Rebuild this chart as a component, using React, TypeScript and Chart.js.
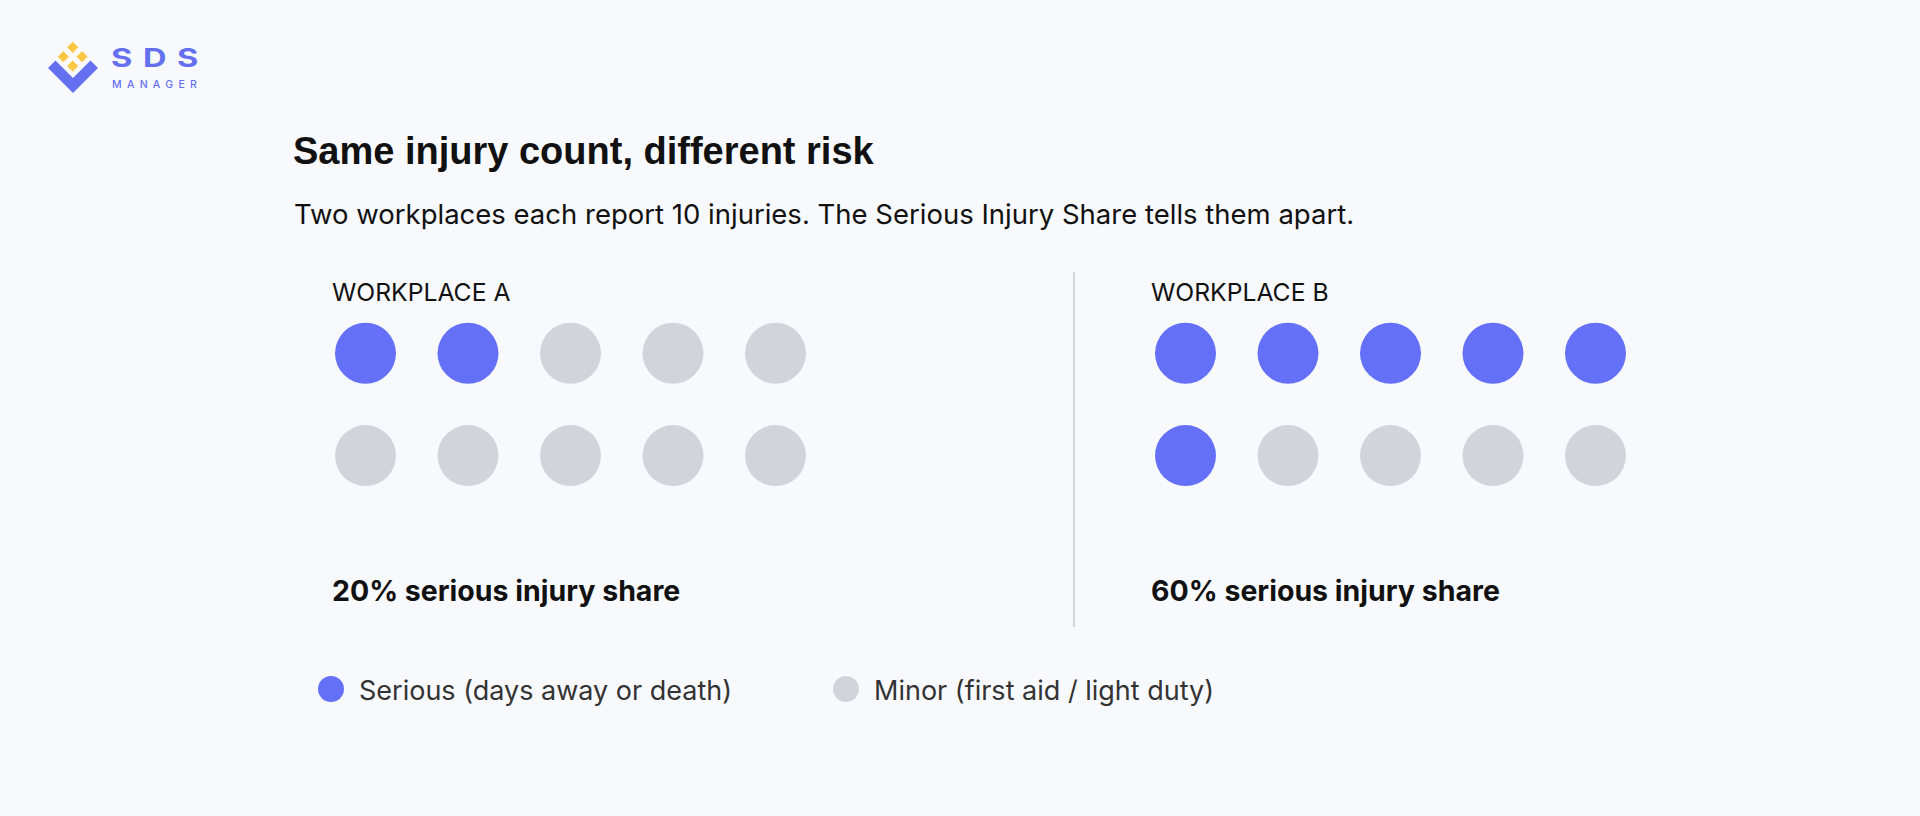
import React, { useEffect, useRef } from "react";
import { Chart, registerables } from "chart.js";

Chart.register(...registerables);

const workplaces = ["WORKPLACE A", "WORKPLACE B"];
const totalInjuries = [10, 10];
const seriousInjuries = [2, 6];
const shareLabels = ["20% serious injury share", "60% serious injury share"];
const legendLabels = ["Serious (days away or death)", "Minor (first aid / light duty)"];
const dotsPerRow = 5;
const workplaceColumnOffset = 8;

const SERIOUS = "#6470F7";
const MINOR = "#D1D5DB";
const BG = "#F8F9FD";

const INTER = "Inter, 'Noto Sans', sans-serif";

function buildPoints() {
  const serious: { x: number; y: number }[] = [];
  const minor: { x: number; y: number }[] = [];
  workplaces.forEach((_, w) => {
    for (let i = 0; i < totalInjuries[w]; i++) {
      const p = { x: w * workplaceColumnOffset + (i % dotsPerRow), y: Math.floor(i / dotsPerRow) };
      if (i < seriousInjuries[w]) serious.push(p);
      else minor.push(p);
    }
  });
  return { serious, minor };
}

// canvas placement (layout)
const CV_LEFT = 300;
const CV_TOP = 290;
const CV_W = 1400;
const CV_H = 230;
const PAD = 40;
const X0 = 365.5; // px of column 0
const XSTEP = 102.5;
const Y0 = 353.3;
const YSTEP = 102.3;

function DotChart() {
  const ref = useRef<HTMLCanvasElement | null>(null);
  useEffect(() => {
    if (!ref.current) return;
    const { serious, minor } = buildPoints();
    const xmin = -(X0 - (CV_LEFT + PAD)) / XSTEP;
    const xmax = xmin + (CV_W - 2 * PAD) / XSTEP;
    const ymin = -(Y0 - (CV_TOP + PAD)) / YSTEP;
    const ymax = ymin + (CV_H - 2 * PAD) / YSTEP;
    const chart = new Chart(ref.current, {
      type: "scatter",
      data: {
        datasets: [
          {
            label: legendLabels[0],
            data: serious,
            pointRadius: 30.5,
            pointBackgroundColor: SERIOUS,
            pointBorderWidth: 0,
            pointHoverRadius: 30.5,
            clip: false as any,
          },
          {
            label: legendLabels[1],
            data: minor,
            pointRadius: 30.5,
            pointBackgroundColor: MINOR,
            pointBorderWidth: 0,
            pointHoverRadius: 30.5,
            clip: false as any,
          },
        ],
      },
      options: {
        animation: false,
        responsive: false,
        devicePixelRatio: 1,
        layout: { padding: PAD },
        events: [],
        plugins: { legend: { display: false }, tooltip: { enabled: false }, title: { display: false } },
        scales: {
          x: { type: "linear", display: false, min: xmin, max: xmax },
          y: { type: "linear", display: false, reverse: true, min: ymin, max: ymax },
        },
      },
    });
    return () => chart.destroy();
  }, []);
  return (
    <canvas
      ref={ref}
      width={CV_W}
      height={CV_H}
      style={{ position: "absolute", left: CV_LEFT, top: CV_TOP, width: CV_W, height: CV_H }}
    />
  );
}

function Logo() {
  const d = 5.6;
  const diamond = (cx: number, cy: number) =>
    `${cx},${cy - d} ${cx + d},${cy} ${cx},${cy + d} ${cx - d},${cy}`;
  return (
    <>
      <svg width={120} height={110} style={{ position: "absolute", left: 0, top: 0 }} viewBox="0 0 120 110">
        <polygon points={diamond(72.7, 47.3)} fill="#FBC845" />
        <polygon points={diamond(63.3, 56.7)} fill="#FBC845" />
        <polygon points={diamond(82.1, 56.7)} fill="#FBC845" />
        <polygon points={diamond(72.7, 66.1)} fill="#FBC845" />
        <polygon points="48,68 55.5,60.5 73,78 90.5,60.5 98,68 73,93" fill="#6470F0" />
      </svg>
      <div
        style={{
          position: "absolute",
          left: 111,
          top: 44.5,
          fontFamily: INTER,
          fontWeight: 700,
          fontSize: 26,
          lineHeight: "26px",
          letterSpacing: 8.5,
          color: "#6470F0",
          whiteSpace: "nowrap",
          transform: "scaleX(1.25)",
          transformOrigin: "left top",
        }}
      >
        SDS
      </div>
      <div
        style={{
          position: "absolute",
          left: 112,
          top: 79.5,
          fontFamily: INTER,
          fontWeight: 500,
          fontSize: 10.5,
          lineHeight: "10.5px",
          letterSpacing: 5.3,
          color: "#6470F0",
          whiteSpace: "nowrap",
        }}
      >
        MANAGER
      </div>
    </>
  );
}

const abs = (left: number, top: number, extra: React.CSSProperties): React.CSSProperties => ({
  position: "absolute",
  left,
  top,
  whiteSpace: "nowrap",
  ...extra,
});

export default function App() {
  useEffect(() => {
    document.body.style.margin = "0";
    document.body.style.background = BG;
  }, []);
  const colLeft = [332, 1151];
  return (
    <div style={{ position: "fixed", left: 0, top: 0, width: 1920, height: 816, background: BG, overflow: "hidden" }}>
      <Logo />
      <div
        style={abs(293, 132, {
          fontFamily: "'Liberation Sans', Arial, sans-serif",
          fontWeight: 700,
          fontSize: 38,
          lineHeight: "38px",
          color: "#111111",
        })}
      >
        Same injury count, different risk
      </div>
      <div style={abs(294, 200.7, { fontFamily: INTER, fontSize: 27.5, lineHeight: "27.5px", color: "#111111" })}>
        Two workplaces each report 10 injuries. The Serious Injury Share tells them apart.
      </div>
      {workplaces.map((w, i) => (
        <div key={w} style={abs(colLeft[i], 280.4, { fontFamily: INTER, fontSize: 24.7, lineHeight: "24.7px", color: "#111111" })}>
          {w}
        </div>
      ))}
      {shareLabels.map((s, i) => (
        <div
          key={s}
          style={abs(colLeft[i], 577.3, { fontFamily: INTER, fontWeight: 700, fontSize: 28.5, lineHeight: "28.5px", color: "#111111" })}
        >
          {s}
        </div>
      ))}
      <div style={{ position: "absolute", left: 1073, top: 272, width: 2, height: 355, background: "#D1D5DB" }} />
      <DotChart />
      {legendLabels.map((l, i) => {
        const left = [318, 833][i];
        return (
          <React.Fragment key={l}>
            <div
              style={{
                position: "absolute",
                left,
                top: 675.5,
                width: 26,
                height: 26,
                borderRadius: "50%",
                background: i === 0 ? SERIOUS : MINOR,
              }}
            />
            <div style={abs(left + 41, 676.6, { fontFamily: INTER, fontSize: 27, lineHeight: "27px", color: "#333333" })}>{l}</div>
          </React.Fragment>
        );
      })}
    </div>
  );
}
